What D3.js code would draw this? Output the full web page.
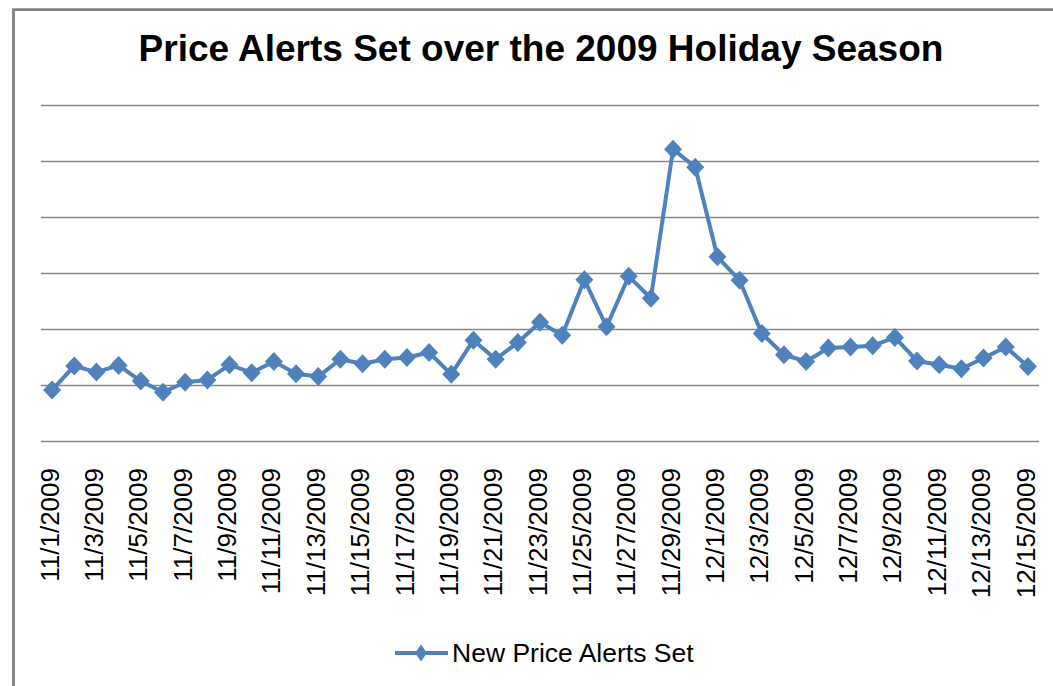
<!DOCTYPE html>
<html>
<head>
<meta charset="utf-8">
<script src="https://cdn.jsdelivr.net/npm/d3@7"></script>
<style>
  body { margin: 0; background: #fff; }
  svg { display: block; font-family: "Liberation Sans", Arial, sans-serif; }
</style>
</head>
<body>
<div id="chart"></div>
<script>
(function() {
  'use strict';
  var WIDTH = 1053;
  var HEIGHT = 686;

  var dates = [
    '11/1/2009', '11/2/2009', '11/3/2009', '11/4/2009', '11/5/2009', '11/6/2009',
    '11/7/2009', '11/8/2009', '11/9/2009', '11/10/2009', '11/11/2009', '11/12/2009',
    '11/13/2009', '11/14/2009', '11/15/2009', '11/16/2009', '11/17/2009', '11/18/2009',
    '11/19/2009', '11/20/2009', '11/21/2009', '11/22/2009', '11/23/2009', '11/24/2009',
    '11/25/2009', '11/26/2009', '11/27/2009', '11/28/2009', '11/29/2009', '11/30/2009',
    '12/1/2009', '12/2/2009', '12/3/2009', '12/4/2009', '12/5/2009', '12/6/2009',
    '12/7/2009', '12/8/2009', '12/9/2009', '12/10/2009', '12/11/2009', '12/12/2009',
    '12/13/2009', '12/14/2009', '12/15/2009'
  ];
  var newAlerts = [
    91, 134, 123, 135, 107, 87, 105, 109, 136, 122, 142, 120,
    115, 146, 138, 146, 149, 158, 119, 180, 146, 176, 212, 189,
    288, 204, 294, 255, 521, 489, 329, 287, 192, 154, 142, 166,
    168, 170, 185, 143, 136, 129, 148, 168, 133
  ];
  var gridTicks = [0, 100, 200, 300, 400, 500, 600];
  var title = 'Price Alerts Set over the 2009 Holiday Season';
  var seriesName = 'New Price Alerts Set';

  var BLUE = '#4f81bd';
  var GRID = '#868686';
  var plot = {left: 41, right: 1039, top: 105, bottom: 441};

  var svg = d3.select('#chart').append('svg')
    .attr('width', WIDTH)
    .attr('height', HEIGHT);

  // outer chart frame (only top and left edges fall inside the picture)
  svg.append('path')
    .attr('d', 'M13.5,' + HEIGHT + 'V9.7H' + WIDTH)
    .attr('fill', 'none')
    .attr('stroke', '#808080')
    .attr('stroke-width', 2.8);

  svg.append('text')
    .attr('x', 541)
    .attr('y', 61)
    .attr('text-anchor', 'middle')
    .style('font-size', '37px')
    .style('font-weight', 'bold')
    .text(title);

  var x = d3.scalePoint()
    .domain(dates)
    .range([plot.left, plot.right])
    .padding(0.5);

  var y = d3.scaleLinear()
    .domain([0, 600])
    .range([plot.bottom, plot.top]);

  var grid = svg.append('g')
    .attr('transform', 'translate(' + plot.left + ',0)')
    .call(d3.axisLeft(y).tickValues(gridTicks).tickSize(-(plot.right - plot.left)).tickFormat(''));
  grid.select('.domain').remove();
  grid.selectAll('line').attr('stroke', GRID).attr('stroke-width', 1.3);

  var xAxis = svg.append('g')
    .attr('transform', 'translate(0,' + plot.bottom + ')')
    .call(d3.axisBottom(x)
      .tickValues(dates.filter(function(d, i) { return i % 2 === 0; }))
      .tickSize(0));
  xAxis.select('.domain').remove();
  xAxis.selectAll('text')
    .attr('fill', '#000')
    .style('font-size', '26px')
    .attr('text-anchor', 'end')
    .attr('x', -27)
    .attr('y', -3)
    .attr('dy', '0.35em')
    .attr('transform', 'rotate(-90)');

  var line = d3.line()
    .x(function(d, i) { return x(dates[i]); })
    .y(function(d) { return y(d); });

  svg.append('path')
    .datum(newAlerts)
    .attr('d', line)
    .attr('fill', 'none')
    .attr('stroke', BLUE)
    .attr('stroke-width', 4)
    .attr('stroke-linejoin', 'round');

  function diamond(w, h) {
    return 'M0,' + (-h) + 'L' + w + ',0L0,' + h + 'L' + (-w) + ',0Z';
  }

  svg.append('g').selectAll('path')
    .data(newAlerts)
    .enter().append('path')
    .attr('d', diamond(9, 9.5))
    .attr('transform', function(d, i) { return 'translate(' + x(dates[i]) + ',' + y(d) + ')'; })
    .attr('fill', BLUE);

  // legend
  var legend = svg.append('g').attr('transform', 'translate(395,653)');
  legend.append('line')
    .attr('x1', 0).attr('x2', 53)
    .attr('stroke', BLUE)
    .attr('stroke-width', 4);
  legend.append('path')
    .attr('d', diamond(6, 8.5))
    .attr('transform', 'translate(26,0)')
    .attr('fill', BLUE);
  legend.append('text')
    .attr('x', 57)
    .attr('y', 9)
    .style('font-size', '26.5px')
    .text(seriesName);
})();
</script>
</body>
</html>
